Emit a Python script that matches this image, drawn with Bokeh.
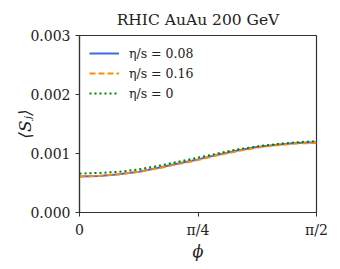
import math
from bokeh.plotting import figure
from bokeh.models import FixedTicker, Range1d, Legend, LegendItem
from bokeh.embed import file_html
from bokeh.resources import INLINE

# phi sample points (fractions of pi/2) and <S_J> values
phi_frac = [0, 1/12, 2/12, 3/12, 4/12, 5/12, 6/12, 7/12, 8/12, 9/12, 10/12, 11/12, 1]
s_008 = [0.00061, 0.00062, 0.00065, 0.00069, 0.00076, 0.00083, 0.00090, 0.00098, 0.00105, 0.00111, 0.00115, 0.00118, 0.00119]
s_016 = [0.00061, 0.00062, 0.00065, 0.00069, 0.00075, 0.00082, 0.00089, 0.00097, 0.00104, 0.00110, 0.00114, 0.00117, 0.00118]
s_0 = [0.00066, 0.00067, 0.00069, 0.00073, 0.00079, 0.00086, 0.00093, 0.00100, 0.00107, 0.00112, 0.00116, 0.00119, 0.00121]
labels = ["η/s = 0.08", "η/s = 0.16", "η/s = 0"]
x_ticks = [0, math.pi / 4, math.pi / 2]
x_tick_labels = ["0", "π/4", "π/2"]
y_ticks = [0.0, 0.001, 0.002, 0.003]
y_tick_labels = ["0.000", "0.001", "0.002", "0.003"]

phi = [f * math.pi / 2 for f in phi_frac]

FONT = "DejaVu Serif"

p = figure(width=340, height=269, output_backend="svg", toolbar_location=None,
           x_range=Range1d(0, math.pi / 2), y_range=Range1d(0, 0.003),
           min_border_left=79, min_border_right=24, min_border_top=35, min_border_bottom=57,
           title="RHIC AuAu 200 GeV")
p.title.text_font = FONT
p.title.text_font_size = "15.5px"
p.title.text_font_style = "normal"
p.title.align = "center"
p.title.standoff = 14
p.title.text_color = "#222222"

p.grid.visible = False
p.outline_line_color = "#333333"
p.outline_line_width = 1.2
p.background_fill_color = "white"
p.border_fill_color = "white"

for ax in (p.xaxis[0], p.yaxis[0]):
    ax.axis_line_color = "#333333"
    ax.axis_line_width = 1.2
    ax.major_tick_line_color = "#333333"
    ax.major_tick_out = 4
    ax.major_tick_in = 0
    ax.minor_tick_line_color = None
    ax.major_label_text_font = FONT
    ax.major_label_text_font_size = "14px"
    ax.major_label_text_color = "#222222"
    ax.axis_label_text_font = FONT
    ax.axis_label_text_font_style = "italic"
    ax.axis_label_text_color = "#222222"

p.xaxis.axis_label_text_font_size = "16px"
p.yaxis.axis_label_text_font_size = "17px"
p.xaxis.ticker = FixedTicker(ticks=x_ticks)
p.xaxis.major_label_overrides = {t: l for t, l in zip(x_ticks, x_tick_labels)}
p.xaxis.axis_label = "ϕ"
p.xaxis.axis_label_standoff = 1
p.yaxis.ticker = FixedTicker(ticks=y_ticks)
p.yaxis.major_label_overrides = {t: l for t, l in zip(y_ticks, y_tick_labels)}
p.yaxis.axis_label = "⟨Sⱼ⟩"
p.yaxis.axis_label_standoff = -8

r1 = p.line(phi, s_008, line_color="#4169e1", line_width=2)
r2 = p.line(phi, s_016, line_color="#ff8c00", line_width=2, line_dash="6 3")
r3 = p.line(phi, s_0, line_color="#008000", line_width=2, line_dash="2 3")

legend = Legend(items=[LegendItem(label=labels[0], renderers=[r1]),
                       LegendItem(label=labels[1], renderers=[r2]),
                       LegendItem(label=labels[2], renderers=[r3])],
                location="top_left")
legend.border_line_color = None
legend.background_fill_alpha = 0
legend.label_text_font = FONT
legend.label_text_font_size = "12.5px"
legend.label_text_color = "#222222"
legend.glyph_width = 30
legend.glyph_height = 16
legend.spacing = 4
legend.margin = 10
legend.padding = 5
legend.label_standoff = 10
p.add_layout(legend, "center")

open("out.html", "w").write(file_html(p, INLINE))
